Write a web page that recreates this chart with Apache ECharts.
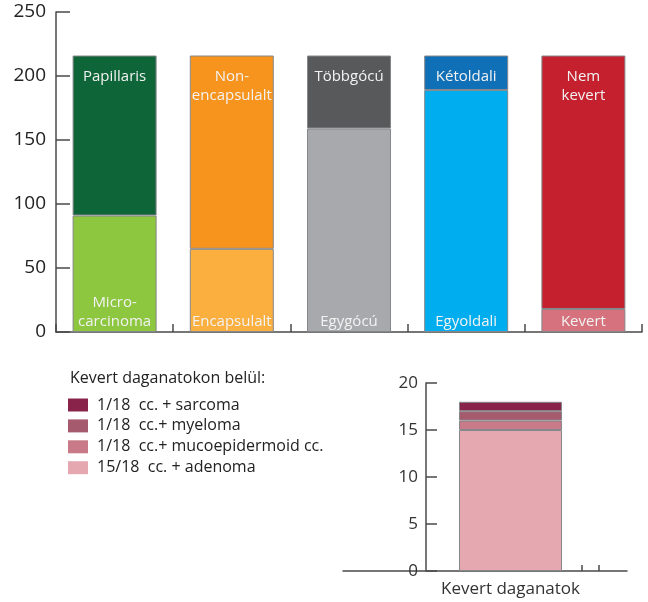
<!DOCTYPE html>
<html>
<head>
<meta charset="utf-8">
<script src="https://cdn.jsdelivr.net/npm/echarts@6/dist/echarts.min.js"></script>
<style>
  html, body { margin: 0; padding: 0; background: #fff; }
  #chart { width: 648px; height: 602px; }
</style>
</head>
<body>
<div id="chart"></div>
<script>
// Tumour groups: each bar splits 216 cases into two complementary parts
const groups = ['Szövettan', 'Tok', 'Gócszám', 'Oldaliság', 'Keveredés'];
const lowerNames = ['Micro-\ncarcinoma', 'Encapsulalt', 'Egygócú', 'Egyoldali', 'Kevert'];
const upperNames = ['Papillaris', 'Non-\nencapsulalt', 'Többgócú', 'Kétoldali', 'Nem\nkevert'];
const lowerValues = [91, 65, 159, 189, 18];
const upperValues = [125, 151, 57, 27, 198];
const lowerColors = ['#8dc63f', '#fbaf3f', '#a7a9ac', '#00aeef', '#d5727d'];
const upperColors = ['#0e6638', '#f7941d', '#58595b', '#0f6fb7', '#c4202e'];
const mainTicks = [0, 50, 100, 150, 200, 250];

// Breakdown of the mixed tumours (bottom to top of the stack)
const mixedCategory = ['Kevert daganatok'];
const mixedNames = ['15/18  cc. + adenoma', '1/18  cc.+ mucoepidermoid cc.', '1/18  cc.+ myeloma', '1/18  cc. + sarcoma'];
const mixedValues = [15, 1, 1, 1];
const mixedColors = ['#e5a8b0', '#c97a88', '#a65a6d', '#8a2349'];
const mixedTicks = [0, 5, 10, 15, 20];

const FONT = '"Open Sans", "Noto Sans", sans-serif';
const AXIS = '#4a4a4a';
const BORDER = '#86878a';

function labelItems(values, names, colors) {
  return values.map((v, i) => ({
    value: v,
    name: names[i],
    itemStyle: { color: colors[i] }
  }));
}

const chart = echarts.init(document.getElementById('chart'), null, { renderer: 'canvas' });

const segLabel = {
  show: true,
  formatter: p => p.data.name,
  color: '#f2f2f2',
  fontFamily: FONT,
  fontSize: 15,
  lineHeight: 19,
  align: 'center'
};

const option = {
  animation: false,
  backgroundColor: '#ffffff',
  textStyle: { fontFamily: FONT },
  title: {
    text: 'Kevert daganatokon belül:',
    left: 70,
    top: 370,
    padding: 0,
    textStyle: { fontFamily: FONT, fontSize: 16, fontWeight: 'normal', color: '#222' }
  },
  legend: {
    data: mixedNames.slice().reverse(),
    orient: 'vertical',
    left: 68,
    top: 397,
    padding: 0,
    itemWidth: 20,
    itemHeight: 13,
    itemGap: 4.9,
    icon: 'rect',
    itemStyle: { borderWidth: 0 },
    selectedMode: false,
    textStyle: { fontFamily: FONT, fontSize: 16, color: '#222', padding: [0, 0, 0, 4] }
  },
  grid: [
    { left: 56, right: 6, top: 12, bottom: 270 },
    { left: 426, right: 53, top: 383, bottom: 31 },
    { left: 343, right: 21, top: 383, bottom: 31 }
  ],
  xAxis: [
    {
      type: 'category', gridIndex: 0, data: groups,
      axisLine: { lineStyle: { color: AXIS, width: 1.5 } },
      axisTick: { show: true, inside: true, length: 8, interval: 0, lineStyle: { color: AXIS, width: 1.5 } },
      axisLabel: { show: false }
    },
    {
      type: 'category', gridIndex: 1, data: mixedCategory,
      axisLine: { show: false },
      axisTick: { show: false },
      axisLabel: { show: true, fontFamily: FONT, fontSize: 17, color: '#333', margin: 10 }
    },
    {
      type: 'value', gridIndex: 2, min: 0, max: 284,
      axisLine: { show: true, lineStyle: { color: AXIS, width: 1.5 } },
      axisTick: { show: true, inside: true, length: 6, customValues: [239, 256], lineStyle: { color: AXIS, width: 1.5 } },
      axisLabel: { show: false },
      splitLine: { show: false }
    }
  ],
  yAxis: [
    {
      type: 'value', gridIndex: 0, min: mainTicks[0], max: mainTicks[mainTicks.length - 1], interval: 50,
      axisLine: { show: true, lineStyle: { color: AXIS, width: 1.5 } },
      axisTick: { show: true, inside: true, length: 14, lineStyle: { color: AXIS, width: 1.5 } },
      axisLabel: { fontFamily: FONT, fontSize: 19, color: '#222', margin: 10 },
      splitLine: { show: false }
    },
    {
      type: 'value', gridIndex: 1, min: mixedTicks[0], max: mixedTicks[mixedTicks.length - 1], interval: 5,
      axisLine: { show: true, lineStyle: { color: AXIS, width: 1.5 } },
      axisTick: { show: true, inside: true, length: 11, lineStyle: { color: AXIS, width: 1.5 } },
      axisLabel: { fontFamily: FONT, fontSize: 17, color: '#333', margin: 8 },
      splitLine: { show: false }
    },
    {
      type: 'value', gridIndex: 2, min: 0, max: 1, show: false
    }
  ],
  series: [
    {
      type: 'bar', name: 'alsó', xAxisIndex: 0, yAxisIndex: 0, stack: 'fő',
      barWidth: 84,
      data: labelItems(lowerValues, lowerNames, lowerColors),
      itemStyle: { borderColor: BORDER, borderWidth: 1 },
      label: Object.assign({}, segLabel, { position: 'insideBottom', distance: 1 })
    },
    {
      type: 'bar', name: 'felső', xAxisIndex: 0, yAxisIndex: 0, stack: 'fő',
      barWidth: 84,
      data: labelItems(upperValues, upperNames, upperColors),
      itemStyle: { borderColor: BORDER, borderWidth: 1 },
      label: Object.assign({}, segLabel, { position: 'insideTop', distance: 12 })
    }
  ].concat(mixedNames.map((n, i) => ({
    type: 'bar', name: n, xAxisIndex: 1, yAxisIndex: 1, stack: 'kevert',
    barWidth: 103,
    data: [mixedValues[i]],
    itemStyle: { color: mixedColors[i], borderColor: BORDER, borderWidth: 1 }
  })))
};

chart.setOption(option);
</script>
</body>
</html>
